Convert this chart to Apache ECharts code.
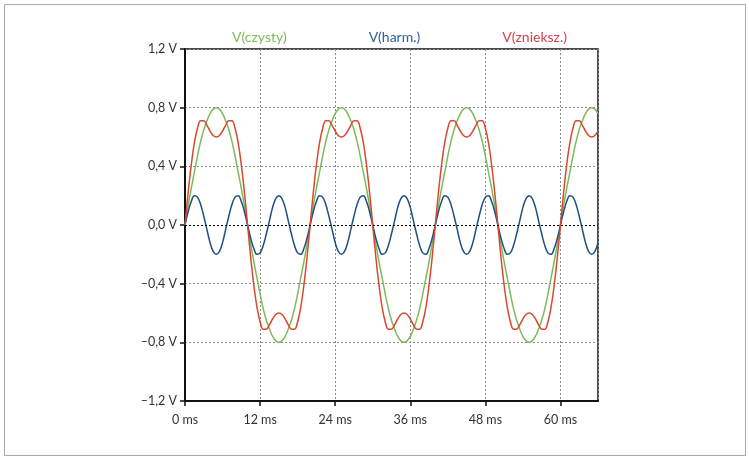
<!DOCTYPE html>
<html>
<head>
  <meta charset="utf-8">
  <title>V(czysty) / V(harm.) / V(znieksz.)</title>
  <script src="https://cdn.jsdelivr.net/npm/echarts@6/dist/echarts.min.js"></script>
  <style>
    html, body { margin: 0; padding: 0; background: #fff; }
    #main { width: 749px; height: 461px; }
  </style>
</head>
<body>
<div id="main"></div>
<script type="text/javascript">
// czas w ms, co 0,5 ms
var timeMs = [
  0, 0.5, 1, 1.5, 2, 2.5, 3, 3.5, 4, 4.5, 5, 5.5, 6, 6.5, 7, 7.5, 8, 8.5, 9, 9.5,
  10, 10.5, 11, 11.5, 12, 12.5, 13, 13.5, 14, 14.5, 15, 15.5, 16, 16.5, 17, 17.5, 18, 18.5, 19, 19.5,
  20, 20.5, 21, 21.5, 22, 22.5, 23, 23.5, 24, 24.5, 25, 25.5, 26, 26.5, 27, 27.5, 28, 28.5, 29, 29.5,
  30, 30.5, 31, 31.5, 32, 32.5, 33, 33.5, 34, 34.5, 35, 35.5, 36, 36.5, 37, 37.5, 38, 38.5, 39, 39.5,
  40, 40.5, 41, 41.5, 42, 42.5, 43, 43.5, 44, 44.5, 45, 45.5, 46, 46.5, 47, 47.5, 48, 48.5, 49, 49.5,
  50, 50.5, 51, 51.5, 52, 52.5, 53, 53.5, 54, 54.5, 55, 55.5, 56, 56.5, 57, 57.5, 58, 58.5, 59, 59.5,
  60, 60.5, 61, 61.5, 62, 62.5, 63, 63.5, 64, 64.5, 65, 65.5, 66
];

var vCzysty = [
  0, 0.13, 0.25, 0.36, 0.47, 0.57, 0.65, 0.71, 0.76, 0.79, 0.80, 0.79, 0.76, 0.71, 0.65, 0.57, 0.47, 0.36, 0.25, 0.13,
  0, -0.13, -0.25, -0.36, -0.47, -0.57, -0.65, -0.71, -0.76, -0.79, -0.80, -0.79, -0.76, -0.71, -0.65, -0.57, -0.47, -0.36, -0.25, -0.13,
  0, 0.13, 0.25, 0.36, 0.47, 0.57, 0.65, 0.71, 0.76, 0.79, 0.80, 0.79, 0.76, 0.71, 0.65, 0.57, 0.47, 0.36, 0.25, 0.13,
  0, -0.13, -0.25, -0.36, -0.47, -0.57, -0.65, -0.71, -0.76, -0.79, -0.80, -0.79, -0.76, -0.71, -0.65, -0.57, -0.47, -0.36, -0.25, -0.13,
  0, 0.13, 0.25, 0.36, 0.47, 0.57, 0.65, 0.71, 0.76, 0.79, 0.80, 0.79, 0.76, 0.71, 0.65, 0.57, 0.47, 0.36, 0.25, 0.13,
  0, -0.13, -0.25, -0.36, -0.47, -0.57, -0.65, -0.71, -0.76, -0.79, -0.80, -0.79, -0.76, -0.71, -0.65, -0.57, -0.47, -0.36, -0.25, -0.13,
  0, 0.13, 0.25, 0.36, 0.47, 0.57, 0.65, 0.71, 0.76, 0.79, 0.80, 0.79, 0.76
];

var vHarm = [
  0, 0.09, 0.16, 0.20, 0.19, 0.14, 0.06, -0.03, -0.12, -0.18, -0.20, -0.18, -0.12, -0.03, 0.06, 0.14, 0.19, 0.20, 0.16, 0.09,
  0, -0.09, -0.16, -0.20, -0.19, -0.14, -0.06, 0.03, 0.12, 0.18, 0.20, 0.18, 0.12, 0.03, -0.06, -0.14, -0.19, -0.20, -0.16, -0.09,
  0, 0.09, 0.16, 0.20, 0.19, 0.14, 0.06, -0.03, -0.12, -0.18, -0.20, -0.18, -0.12, -0.03, 0.06, 0.14, 0.19, 0.20, 0.16, 0.09,
  0, -0.09, -0.16, -0.20, -0.19, -0.14, -0.06, 0.03, 0.12, 0.18, 0.20, 0.18, 0.12, 0.03, -0.06, -0.14, -0.19, -0.20, -0.16, -0.09,
  0, 0.09, 0.16, 0.20, 0.19, 0.14, 0.06, -0.03, -0.12, -0.18, -0.20, -0.18, -0.12, -0.03, 0.06, 0.14, 0.19, 0.20, 0.16, 0.09,
  0, -0.09, -0.16, -0.20, -0.19, -0.14, -0.06, 0.03, 0.12, 0.18, 0.20, 0.18, 0.12, 0.03, -0.06, -0.14, -0.19, -0.20, -0.16, -0.09,
  0, 0.09, 0.16, 0.20, 0.19, 0.14, 0.06, -0.03, -0.12, -0.18, -0.20, -0.18, -0.12
];

var vZnieksz = [
  0, 0.22, 0.41, 0.56, 0.66, 0.71, 0.71, 0.68, 0.64, 0.61, 0.60, 0.61, 0.64, 0.68, 0.71, 0.71, 0.66, 0.56, 0.41, 0.22,
  0, -0.22, -0.41, -0.56, -0.66, -0.71, -0.71, -0.68, -0.64, -0.61, -0.60, -0.61, -0.64, -0.68, -0.71, -0.71, -0.66, -0.56, -0.41, -0.22,
  0, 0.22, 0.41, 0.56, 0.66, 0.71, 0.71, 0.68, 0.64, 0.61, 0.60, 0.61, 0.64, 0.68, 0.71, 0.71, 0.66, 0.56, 0.41, 0.22,
  0, -0.22, -0.41, -0.56, -0.66, -0.71, -0.71, -0.68, -0.64, -0.61, -0.60, -0.61, -0.64, -0.68, -0.71, -0.71, -0.66, -0.56, -0.41, -0.22,
  0, 0.22, 0.41, 0.56, 0.66, 0.71, 0.71, 0.68, 0.64, 0.61, 0.60, 0.61, 0.64, 0.68, 0.71, 0.71, 0.66, 0.56, 0.41, 0.22,
  0, -0.22, -0.41, -0.56, -0.66, -0.71, -0.71, -0.68, -0.64, -0.61, -0.60, -0.61, -0.64, -0.68, -0.71, -0.71, -0.66, -0.56, -0.41, -0.22,
  0, 0.22, 0.41, 0.56, 0.66, 0.71, 0.71, 0.68, 0.64, 0.61, 0.60, 0.61, 0.64
];

var seriesNames = ['V(czysty)', 'V(harm.)', 'V(znieksz.)'];
var lineColors = ['#7cbb5a', '#1d4f86', '#d9472e'];
var legendColors = ['#7cbb5a', '#2c5f9e', '#d8404a'];

var myChart = echarts.init(document.getElementById('main'));

function pairs(ys) {
  var res = [];
  for (var i = 0; i < ys.length; i++) {
    res.push([timeMs[i], ys[i]]);
  }
  return res;
}

function fmtVolt(v) {
  var s = Math.abs(v).toFixed(1).replace('.', ',') + ' V';
  return v < 0 ? '\u2013' + s : s;
}

var font = 'Lato, "Open Sans", sans-serif';

function lineSeries(idx, ys) {
  return {
    name: seriesNames[idx],
    type: 'line',
    data: pairs(ys),
    smooth: 0.4,
    showSymbol: false,
    silent: true,
    lineStyle: { color: lineColors[idx], width: 1.5 },
    itemStyle: { color: lineColors[idx] }
  };
}

var series = [
  lineSeries(0, vCzysty),
  lineSeries(1, vHarm),
  lineSeries(2, vZnieksz)
];

// linia zera - czarna, kropkowana
series[0].markLine = {
  silent: true,
  symbol: 'none',
  label: { show: false },
  lineStyle: { color: '#000', type: [2, 2], width: 1 },
  data: [{ yAxis: 0 }]
};

var option = {
  backgroundColor: '#fff',
  animation: false,
  textStyle: { fontFamily: font },
  legend: {
    top: 25,
    left: 222,
    icon: 'none',
    itemWidth: 0,
    itemHeight: 0,
    itemGap: 77,
    selectedMode: false,
    data: seriesNames.map(function (n, i) {
      return { name: n, textStyle: { color: legendColors[i], fontSize: 14, fontFamily: font } };
    })
  },
  grid: {
    left: 185,
    right: 151,
    top: 49,
    bottom: 60,
    show: true,
    borderColor: '#111',
    borderWidth: 1.5
  },
  xAxis: {
    type: 'value',
    min: 0,
    max: 66,
    interval: 12,
    axisLine: { show: true, onZero: false, lineStyle: { color: '#111', width: 2 } },
    axisTick: { show: true, inside: false, length: 5, lineStyle: { color: '#111', width: 1.5 } },
    axisLabel: {
      color: '#333',
      fontSize: 12.5,
      margin: 12,
      showMaxLabel: false,
      formatter: function (v) { return v + ' ms'; }
    },
    splitLine: { show: true, lineStyle: { color: '#8a8a8a', type: [2, 2], width: 1 } }
  },
  yAxis: {
    type: 'value',
    min: -1.2,
    max: 1.2,
    interval: 0.4,
    axisLine: { show: true, onZero: false, lineStyle: { color: '#111', width: 2 } },
    axisTick: { show: true, inside: false, length: 5, lineStyle: { color: '#111', width: 1.5 } },
    axisLabel: {
      color: '#333',
      fontSize: 12.5,
      margin: 8,
      formatter: fmtVolt
    },
    splitLine: { show: true, lineStyle: { color: '#8a8a8a', type: [2, 2], width: 1 } }
  },
  graphic: [{
    type: 'rect',
    silent: true,
    shape: { x: 4.5, y: 4.5, width: 741, height: 451 },
    style: { fill: 'none', stroke: '#a8a8a8', lineWidth: 1 }
  }],
  series: series
};

myChart.setOption(option);
</script>
</body>
</html>
